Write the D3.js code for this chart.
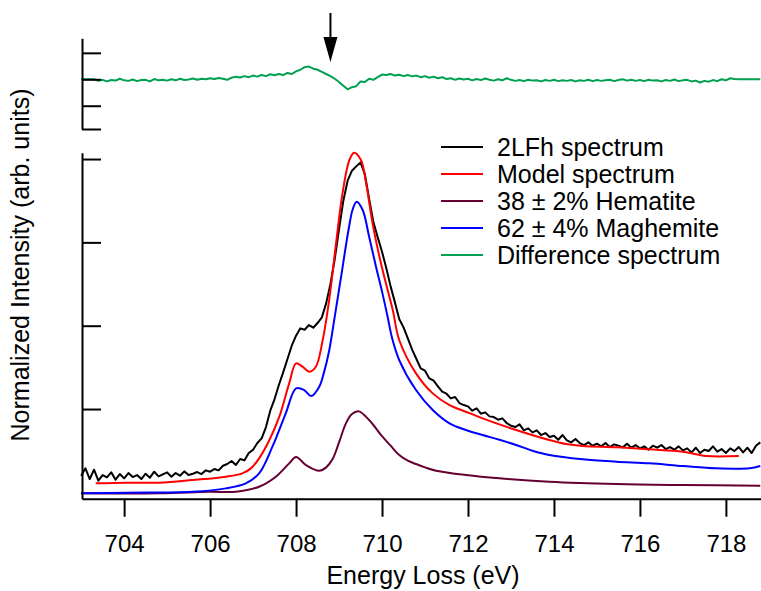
<!DOCTYPE html>
<html>
<head>
<meta charset="utf-8">
<script src="https://cdn.jsdelivr.net/npm/d3@7"></script>
<style>
  html, body { margin: 0; padding: 0; background: #fff; }
  svg { display: block; }
  text { font-family: "Liberation Sans", Arial, Helvetica, sans-serif; fill: #000; }
</style>
</head>
<body>
<svg id="chart" width="761" height="591"></svg>
<script>
// ---------------- DATA ----------------
const xTickValues = [704, 706, 708, 710, 712, 714, 716, 718];
const mainYTicks = [0.25, 0.5, 0.75, 1.0];
const diffYTicks = [0.1, 0, -0.1, -0.188];

const seriesNames = ["2LFh spectrum", "Model spectrum", "38 \u00B1 2% Hematite", "62 \u00B1 4% Maghemite", "Difference spectrum"];
const seriesColors = ["#000000", "#ff0000", "#660033", "#0000ff", "#00a050"];

// uniformly sampled measured spectrum (start 703.0 eV, 0.1 eV steps)
const sampleStart = 703.0;
const sampleStep = 0.1;

const blackValues = [
  0.050,0.072,0.040,0.068,0.035,0.052,0.045,0.060,0.038,0.055,
  0.042,0.058,0.046,0.052,0.040,0.056,0.044,0.062,0.048,0.054,
  0.060,0.047,0.058,0.050,0.063,0.052,0.056,0.061,0.055,0.066,
  0.062,0.070,0.066,0.080,0.085,0.094,0.082,0.100,0.096,0.118,
  0.128,0.148,0.162,0.196,0.245,0.280,0.322,0.360,0.400,0.440,
  0.470,0.492,0.488,0.502,0.494,0.508,0.525,0.567,0.625,0.700,
  0.790,0.875,0.935,0.965,0.978,0.990,0.955,0.880,0.810,0.765,
  0.722,0.672,0.618,0.570,0.520,0.495,0.462,0.428,0.400,0.372,
  0.365,0.342,0.335,0.318,0.302,0.296,0.282,0.286,0.268,0.262,
  0.258,0.245,0.252,0.236,0.240,0.228,0.226,0.218,0.222,0.208,
  0.200,0.196,0.204,0.186,0.192,0.180,0.186,0.172,0.178,0.166,
  0.170,0.158,0.172,0.156,0.150,0.160,0.148,0.142,0.150,0.140,
  0.146,0.138,0.148,0.136,0.144,0.140,0.135,0.146,0.134,0.142,
  0.132,0.138,0.128,0.140,0.134,0.142,0.130,0.136,0.128,0.138,
  0.126,0.132,0.120,0.134,0.118,0.128,0.124,0.138,0.122,0.130,
  0.118,0.132,0.124,0.136,0.120,0.134,0.118,0.140,0.150
];

const diffValues = [
  0,0,0,0,-0.006,-0.002,-0.008,-0.003,-0.005,0.002,
  -0.004,-0.006,-0.001,-0.007,-0.003,-0.002,-0.008,0.001,-0.004,-0.002,
  -0.005,0.000,-0.004,0.002,-0.003,-0.001,0.003,-0.002,0.002,0.000,
  0.004,0.001,0.005,0.002,-0.002,0.006,0.010,0.007,0.012,0.008,
  0.014,0.010,0.016,0.012,0.019,0.015,0.020,0.016,0.024,0.020,
  0.030,0.036,0.046,0.048,0.040,0.036,0.028,0.020,0.012,0.002,
  -0.010,-0.024,-0.038,-0.030,-0.026,-0.008,-0.010,0.002,-0.002,0.008,
  0.018,0.016,0.020,0.014,0.017,0.012,0.016,0.011,0.014,0.008,
  0.012,0.006,0.010,0.004,0.008,0.001,0.004,-0.002,0.003,-0.001,
  0.002,-0.004,0.001,-0.003,0.003,-0.002,-0.005,0.000,-0.004,0.004,
  -0.002,-0.006,-0.003,-0.007,-0.002,-0.005,-0.004,-0.008,-0.003,-0.006,
  -0.002,-0.007,-0.004,-0.006,-0.003,-0.008,-0.004,-0.006,-0.002,-0.007,
  -0.003,-0.006,-0.004,-0.002,-0.007,-0.003,0.000,-0.005,-0.002,-0.006,
  -0.003,-0.007,-0.002,-0.005,-0.004,-0.008,-0.003,-0.006,-0.001,-0.007,
  -0.004,-0.002,-0.008,-0.005,-0.012,-0.006,-0.009,-0.003,-0.007,0.000,
  -0.004,0.004,0.001,0.000,0,0,0,0,0
];

// model spectrum
const modelEnergy = [703.34,704.04,704.82,705.59,706.37,706.75,706.95,707.14,707.38,707.61,707.84,708.0,708.15,708.31,708.46,708.62,708.77,708.93,709.08,709.24,709.35,709.51,709.63,709.78,709.94,710.09,710.25,710.4,710.79,711.18,711.57,711.95,712.34,713.12,713.89,714.28,714.67,715.45,716.22,717.0,717.54,718.3];
const modelValues = [0.027,0.029,0.029,0.037,0.047,0.057,0.072,0.102,0.157,0.227,0.327,0.387,0.377,0.362,0.377,0.457,0.577,0.747,0.897,0.997,1.019,0.997,0.927,0.807,0.707,0.627,0.547,0.457,0.357,0.297,0.262,0.242,0.222,0.187,0.157,0.145,0.139,0.135,0.129,0.122,0.109,0.109];

// hematite component
const hematiteEnergy = [703.0,704.82,705.98,706.6,707.14,707.53,707.84,708.0,708.23,708.54,708.7,708.85,709.0,709.16,709.3,709.46,709.7,710.01,710.2,710.4,710.6,710.79,711.0,711.26,711.95,712.73,713.89,715.45,717.0,718.8];
const hematiteValues = [-0.003,-0.003,0.002,0.002,0.017,0.047,0.087,0.106,0.082,0.065,0.075,0.100,0.150,0.207,0.235,0.243,0.217,0.167,0.140,0.112,0.095,0.085,0.075,0.065,0.052,0.042,0.032,0.025,0.022,0.020];

// maghemite component
const maghemiteEnergy = [703.0,704.04,705.59,706.37,706.83,707.14,707.45,707.76,708.0,708.19,708.35,708.54,708.65,708.77,708.9,709.06,709.22,709.32,709.41,709.55,709.7,709.86,710.01,710.13,710.23,710.4,710.79,711.18,711.57,711.95,712.34,712.73,713.12,713.5,713.89,714.67,715.45,716.22,717.0,717.77,718.55,718.8];
const maghemiteValues = [-0.003,-0.001,0.002,0.012,0.027,0.057,0.137,0.237,0.312,0.307,0.289,0.317,0.360,0.425,0.527,0.657,0.787,0.850,0.872,0.847,0.767,0.677,0.597,0.527,0.465,0.397,0.307,0.247,0.207,0.187,0.172,0.158,0.142,0.125,0.112,0.099,0.092,0.087,0.079,0.072,0.072,0.079];

const arrowEnergy = 708.8;

// ---------------- DRAW ----------------
const svg = d3.select("#chart");
svg.append("rect").attr("width", 761).attr("height", 591).attr("fill", "#fff");

const x = d3.scaleLinear().domain([703.02, 718.84]).range([82, 762]);
const y = d3.scaleLinear().domain([-0.019, 1.019]).range([498.7, 152.7]);
const yd = d3.scaleLinear().domain([-0.188, 0.155]).range([129, 38.3]);

const blackData = blackValues.map((v, i) => [sampleStart + i * sampleStep, v]);
const diffData = diffValues.map((v, i) => [sampleStart + i * sampleStep, v]);
const zip = (e, v) => e.map((d, i) => [d, v[i]]);

const lineMain = d3.line().x(d => x(d[0])).y(d => y(d[1]));
const lineSmooth = d3.line().x(d => x(d[0])).y(d => y(d[1])).curve(d3.curveCatmullRom.alpha(0.5));
const lineDiff = d3.line().x(d => x(d[0])).y(d => yd(d[1]));

// curves
svg.append("path").datum(zip(hematiteEnergy, hematiteValues)).attr("d", lineSmooth)
  .attr("fill", "none").attr("stroke", seriesColors[2]).attr("stroke-width", 2);
svg.append("path").datum(zip(maghemiteEnergy, maghemiteValues)).attr("d", lineSmooth)
  .attr("fill", "none").attr("stroke", seriesColors[3]).attr("stroke-width", 2);
svg.append("path").datum(blackData).attr("d", lineMain)
  .attr("fill", "none").attr("stroke", seriesColors[0]).attr("stroke-width", 2).attr("stroke-linejoin", "round");
svg.append("path").datum(zip(modelEnergy, modelValues)).attr("d", lineSmooth)
  .attr("fill", "none").attr("stroke", seriesColors[1]).attr("stroke-width", 2);
svg.append("path").datum(diffData).attr("d", lineDiff)
  .attr("fill", "none").attr("stroke", seriesColors[4]).attr("stroke-width", 2).attr("stroke-linejoin", "round");

// axes
function styleAxis(g) {
  g.selectAll("path.domain").attr("stroke", "#000").attr("stroke-width", 2);
  g.selectAll(".tick line").attr("stroke", "#000").attr("stroke-width", 2);
}

const gx = svg.append("g").attr("transform", "translate(0,498.7)")
  .call(d3.axisBottom(x).tickValues(xTickValues).tickSize(18).tickSizeOuter(0).tickPadding(18).tickFormat(d3.format("d")));
styleAxis(gx);
gx.selectAll("text").attr("font-size", 24).attr("font-family", "Liberation Sans, Arial, sans-serif");

const gy = svg.append("g").attr("transform", "translate(82,0)")
  .call(d3.axisLeft(y).tickValues(mainYTicks).tickSize(-19).tickSizeOuter(0).tickFormat(""));
styleAxis(gy);

const gyd = svg.append("g").attr("transform", "translate(82,0)")
  .call(d3.axisLeft(yd).tickValues(diffYTicks).tickSize(-19).tickSizeOuter(0).tickFormat(""));
styleAxis(gyd);

// axis titles
svg.append("text").attr("x", 423).attr("y", 584).attr("text-anchor", "middle")
  .attr("font-size", 25).text("Energy Loss (eV)");
svg.append("text").attr("transform", "translate(29,265) rotate(-90)").attr("text-anchor", "middle")
  .attr("font-size", 25).text("Normalized Intensity (arb. units)");

// arrow
const ax = x(arrowEnergy);
svg.append("line").attr("x1", ax).attr("x2", ax).attr("y1", 13).attr("y2", 42)
  .attr("stroke", "#000").attr("stroke-width", 2);
svg.append("path").attr("d", `M${ax - 7},37 L${ax + 7},37 L${ax},62 Z`).attr("fill", "#000");

// legend
const legend = svg.append("g").attr("transform", "translate(441,147)");
seriesNames.forEach((name, i) => {
  const row = legend.append("g").attr("transform", `translate(0,${i * 27})`);
  row.append("line").attr("x1", 0).attr("x2", 42).attr("y1", 0).attr("y2", 0)
    .attr("stroke", seriesColors[i]).attr("stroke-width", 2);
  row.append("text").attr("x", 56).attr("y", 9).attr("font-size", 25).text(name);
});
</script>
</body>
</html>
